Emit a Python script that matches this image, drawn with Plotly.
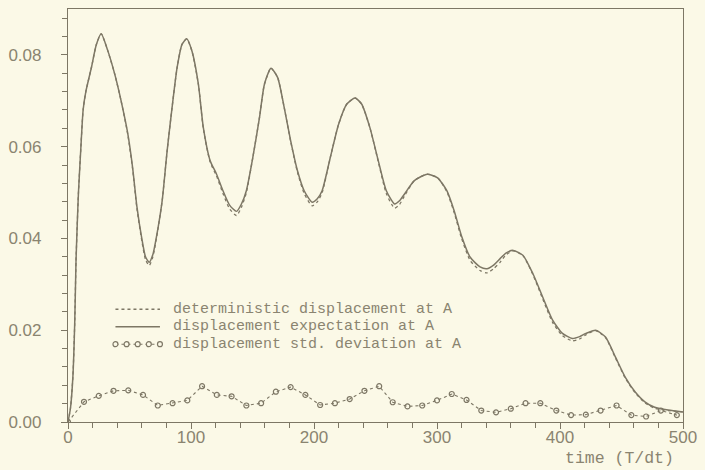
import plotly.graph_objects as go

# ---- data ----
t_main = [0, 2, 4, 5.5, 6.5, 7.5, 8.5, 10.5, 12.3, 14.5, 19, 23, 27, 32, 38, 43, 48.5, 52.5, 56,
          60, 63, 66, 69, 73, 76.6, 80.6, 84.6, 88.7, 92.7, 96.5, 100.7, 106, 110, 115.5, 120.8,
          126, 131.5, 137, 141, 145, 150.3, 155.7, 159.7, 165, 170.4, 175.8, 181, 186.5, 192,
          198.5, 202.5, 206.6, 213.3, 220, 226.7, 233.4, 238.7, 245.4, 252.2, 258.8, 265.5,
          269.5, 273.6, 281.6, 292, 300.5, 308, 314, 320, 327, 335, 340.6, 346, 351.3, 356, 362,
          370, 378, 386, 394, 402, 410, 416, 421, 429, 437, 445, 453, 461, 469, 477, 488, 500]

expectation = [0.0, 0.003, 0.010, 0.022, 0.035, 0.043, 0.050, 0.060, 0.068, 0.072, 0.0772, 0.0822,
               0.0846, 0.0812, 0.0758, 0.0702, 0.0630, 0.0555, 0.0470, 0.0400, 0.0360, 0.0348,
               0.0365, 0.0420, 0.0483, 0.0591, 0.0685, 0.0772, 0.0823, 0.0835, 0.0809, 0.0736,
               0.0642, 0.0570, 0.0540, 0.0504, 0.0472, 0.0459, 0.0475, 0.0504, 0.0577, 0.0664,
               0.0736, 0.0771, 0.0751, 0.0685, 0.0613, 0.0548, 0.0504, 0.0479, 0.0486, 0.0504,
               0.0577, 0.0649, 0.0693, 0.0706, 0.0693, 0.0642, 0.0570, 0.0504, 0.0475, 0.0482,
               0.0497, 0.0526, 0.0540, 0.0532, 0.0504, 0.0460, 0.0405, 0.0359, 0.0338, 0.0334,
               0.0342, 0.0356, 0.0368, 0.0374, 0.0363, 0.0323, 0.0272, 0.0222, 0.0193, 0.0182,
               0.0186, 0.0193, 0.0200, 0.0185, 0.0142, 0.0098, 0.0066, 0.0044, 0.0032, 0.0026,
               0.0022]

deterministic = [0.0, 0.003, 0.010, 0.022, 0.035, 0.043, 0.050, 0.060, 0.068, 0.072, 0.0772, 0.0822,
                 0.0846, 0.0812, 0.0758, 0.0702, 0.0628, 0.0552, 0.0466, 0.0395, 0.0354, 0.0341,
                 0.0360, 0.0418, 0.0483, 0.0591, 0.0685, 0.0772, 0.0823, 0.0835, 0.0809, 0.0736,
                 0.0640, 0.0567, 0.0536, 0.0498, 0.0464, 0.0450, 0.0468, 0.0500, 0.0577, 0.0664,
                 0.0736, 0.0771, 0.0751, 0.0685, 0.0612, 0.0545, 0.0498, 0.0471, 0.0479, 0.0500,
                 0.0577, 0.0649, 0.0693, 0.0706, 0.0693, 0.0642, 0.0568, 0.0498, 0.0466, 0.0474,
                 0.0493, 0.0526, 0.0540, 0.0532, 0.0502, 0.0456, 0.0400, 0.0352, 0.0330, 0.0325,
                 0.0334, 0.0348, 0.0364, 0.0373, 0.0362, 0.0321, 0.0268, 0.0217, 0.0188, 0.0177,
                 0.0181, 0.0190, 0.0199, 0.0184, 0.0140, 0.0096, 0.0064, 0.0042, 0.0030, 0.0025,
                 0.0022]

t_std = [0, 13, 25, 37, 49, 61, 73, 85, 97, 109, 121, 133, 145, 157, 169, 181, 193, 205, 217,
         229, 241, 253, 264, 276, 288, 300, 312, 324, 336, 348, 360, 372, 384, 397, 409, 421,
         433, 446, 458, 470, 482, 495]
std_dev = [0.0000, 0.0044, 0.0057, 0.0068, 0.0069, 0.0059, 0.0036, 0.0041, 0.0047, 0.0078,
           0.0059, 0.0056, 0.0036, 0.0041, 0.0066, 0.0076, 0.0059, 0.0037, 0.0041, 0.0050,
           0.0068, 0.0078, 0.0043, 0.0034, 0.0036, 0.0047, 0.0061, 0.0048, 0.0025, 0.0021,
           0.0029, 0.0041, 0.0041, 0.0025, 0.0015, 0.0016, 0.0025, 0.0036, 0.0015, 0.0012,
           0.0025, 0.0015]

legend_labels = ["deterministic displacement at A",
                 "displacement expectation at A",
                 "displacement std. deviation at A"]
x_ticks = [0, 100, 200, 300, 400, 500]
y_ticks = [0.00, 0.02, 0.04, 0.06, 0.08]
x_title = "time (T/dt)"

# ---- style ----
BG = "#fbf9e7"
INK = "#7d7765"
TXT = "#8a8470"
W, H = 705, 470
ML, MR, MT, MB = 63, 20, 8, 48
PW, PH = W - ML - MR, H - MT - MB

fig = go.Figure()
fig.add_trace(go.Scatter(x=t_main, y=deterministic, mode="lines",
                         line=dict(color=INK, width=1.3, dash="dot", shape="spline", smoothing=0.6),
                         name=legend_labels[0], showlegend=False))
fig.add_trace(go.Scatter(x=t_main, y=expectation, mode="lines",
                         line=dict(color=INK, width=1.5, shape="spline", smoothing=0.6),
                         name=legend_labels[1], showlegend=False))
fig.add_trace(go.Scatter(x=t_std, y=std_dev, mode="lines+markers",
                         line=dict(color=INK, width=1.1, dash="3px,3px"),
                         marker=dict(symbol="circle-open", size=5, color=INK, line=dict(width=1.2)),
                         name=legend_labels[2], showlegend=False))

def px2paper(px, py):
    return (px - ML) / PW, (H - MB - py) / PH

# legend drawn as text + glyphs
rows_y = [309, 326.5, 344]
for i, (lab, ry) in enumerate(zip(legend_labels, rows_y)):
    xt, yt = px2paper(167, ry)
    fig.add_annotation(x=xt, y=yt, xref="paper", yref="paper", text=lab, showarrow=False,
                       xanchor="left", yanchor="middle",
                       font=dict(family="Liberation Mono", size=15, color=TXT))
    x0, y0 = px2paper(111, ry)
    x1, _ = px2paper(156, ry)
    if i == 0:
        fig.add_shape(type="line", xref="paper", yref="paper", x0=x0, x1=x1, y0=y0, y1=y0,
                      line=dict(color=INK, width=1.3, dash="dot"))
    elif i == 1:
        fig.add_shape(type="line", xref="paper", yref="paper", x0=x0, x1=x1, y0=y0, y1=y0,
                      line=dict(color=INK, width=1.5))
    else:
        fig.add_shape(type="line", xref="paper", yref="paper", x0=x0, x1=x1, y0=y0, y1=y0,
                      line=dict(color=INK, width=1.1, dash="3px,3px"))
        for k in range(5):
            cx = 111 + k * 11.25
            a0, b0 = px2paper(cx - 2.5, ry + 2.5)
            a1, b1 = px2paper(cx + 2.5, ry - 2.5)
            fig.add_shape(type="circle", xref="paper", yref="paper", x0=a0, x1=a1, y0=b0, y1=b1,
                          line=dict(color=INK, width=1.2), fillcolor=BG)

# x-axis title as annotation at bottom right
xa, ya = px2paper(678, 459)
fig.add_annotation(x=xa, y=ya, xref="paper", yref="paper", text=x_title, showarrow=False,
                   xanchor="right", yanchor="middle",
                   font=dict(family="Liberation Mono", size=16.5, color=TXT))

fig.update_layout(
    width=W, height=H,
    margin=dict(l=ML, r=MR, t=MT, b=MB),
    paper_bgcolor=BG, plot_bgcolor=BG,
    showlegend=False,
    xaxis=dict(range=[0, 500], tickvals=x_ticks, ticktext=[str(v) for v in x_ticks],
               showgrid=False, zeroline=False, showline=True, linecolor=INK, linewidth=1.2,
               mirror=True, ticks="outside", ticklen=6, tickcolor=INK, tickwidth=1.1,
               minor=dict(dtick=20, ticks="outside", ticklen=5, tickcolor=INK, tickwidth=1.1),
               tickfont=dict(family="Liberation Sans", size=17, color=TXT),
               ticklabelstandoff=-7),
    yaxis=dict(range=[0, 0.09], tickvals=y_ticks, ticktext=[f"{v:.2f}" for v in y_ticks],
               showgrid=False, zeroline=False, showline=True, linecolor=INK, linewidth=1.2,
               mirror=True, ticks="outside", ticklen=6, tickcolor=INK, tickwidth=1.1,
               minor=dict(dtick=0.004, ticks="outside", ticklen=5, tickcolor=INK, tickwidth=1.1),
               tickfont=dict(family="Liberation Sans", size=17, color=TXT),
               ticklabelstandoff=16),
)

fig.write_html("out.html")
